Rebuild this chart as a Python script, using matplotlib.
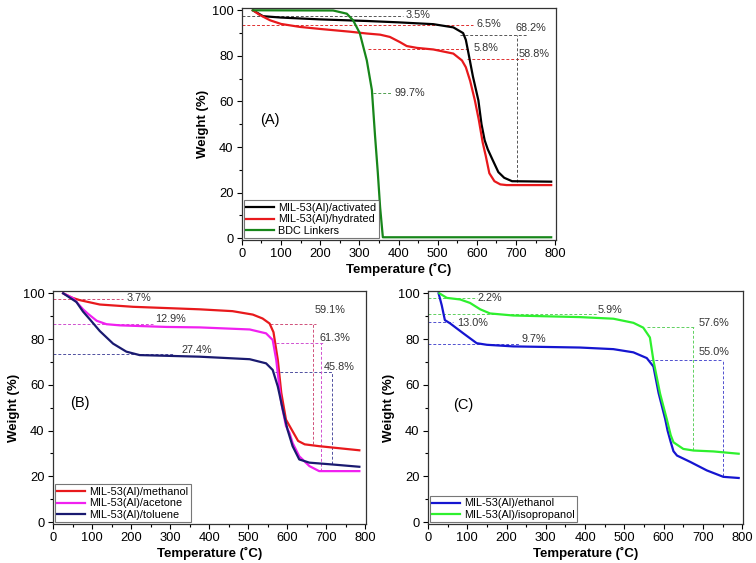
import numpy as np
import matplotlib.pyplot as plt
from matplotlib.ticker import MultipleLocator

plt.rcParams['font.family'] = ['Liberation Sans', 'DejaVu Sans']

# ---- panel A data (temperature in C, weight in %)
T_act = [28, 54, 100, 200, 319, 400, 489, 540, 565, 572, 580, 590, 604, 612, 620, 628, 640, 655, 670, 690, 790]
W_act = [100, 97.4, 96.8, 96.0, 95.3, 94.7, 93.9, 92.5, 90, 87, 80, 71, 60.5, 50, 43, 39, 34.5, 29, 26.5, 25, 24.8]

T_hyd = [28, 45, 72, 100, 148, 200, 276, 319, 353, 378, 404, 421, 447, 489, 540, 562, 572, 583, 595, 605, 615, 623, 632, 645, 660, 676, 790]
W_hyd = [100, 98, 95.6, 94, 92.7, 91.8, 90.6, 89.8, 89.3, 88.3, 86, 84.3, 83.5, 82.8, 81, 78, 75, 69, 60.5, 52, 42, 36, 28.5, 25, 23.6, 23.3, 23.3]

T_bdc = [28, 233, 268, 284, 301, 319, 332, 340, 347, 353, 360, 790]
W_bdc = [100, 99.9, 98.5, 95.6, 90, 78, 65, 45, 29, 13.6, 0.4, 0.4]

# ---- panel B data
T_meth = [26, 50, 69, 120, 205, 376, 460, 512, 537, 555, 565, 576, 585, 597, 608, 618, 628, 645, 682, 785]
W_meth = [100, 98, 97, 95.1, 94.1, 93, 92.2, 90.7, 89, 86.8, 83, 71, 56.5, 44.8, 41.5, 38.5, 35.5, 34, 33.2, 31.4]

T_acet = [26, 52, 77, 90, 112, 137, 171, 290, 376, 504, 546, 563, 572, 585, 597, 606, 614, 631, 657, 682, 785]
W_acet = [100, 97.8, 93, 91, 88, 86.5, 86, 85.3, 85.1, 84.2, 82.5, 79.6, 70.9, 52, 42, 39, 34.6, 28.8, 24.5, 22.3, 22.3]

T_tol = [26, 60, 77, 95, 120, 154, 188, 222, 376, 504, 546, 563, 576, 589, 601, 614, 631, 657, 716, 785]
W_tol = [100, 96.2, 92, 88.5, 83.5, 78, 74.5, 73, 72.3, 71.2, 69.4, 66.5, 59.3, 49.1, 40.4, 33.2, 27.4, 26, 25.2, 24.2]

# ---- panel C data
T_iso = [29, 48, 82, 107, 133, 158, 217, 387, 472, 523, 548, 565, 574, 591, 608, 618, 625, 650, 676, 727, 791]
W_iso = [100, 98, 97.3, 95.8, 93, 91.2, 90.3, 89.6, 88.9, 87.1, 85, 80.7, 70.6, 56.1, 45, 38, 34.9, 32, 31.3, 30.9, 29.9]

T_eth = [27, 35, 43, 56, 90, 124, 150, 217, 387, 472, 523, 557, 574, 587, 604, 610, 618, 625, 634, 668, 710, 752, 791]
W_eth = [100, 94.8, 88.3, 86.9, 82.5, 78.2, 77.5, 76.8, 76.3, 75.6, 74.2, 71.7, 68, 56.5, 45, 40, 35, 31, 29.1, 26.3, 22.6, 19.8, 19.3]

# annotation guides: (y, x0, x1), (x, y0, y1), labels (x, y, text)
hl_A = [(97.4, 0, 412, 'gray'), (93.7, 0, 590, 'red'), (89.3, 557, 728, 'gray'),
        (83.2, 322, 583, 'red'), (78.8, 574, 725, 'red'), (63.5, 335, 383, 'green')]
vl_A = [(702, 24.6, 89.3, 'gray')]
lab_A = [(418, 97.8, '3.5%'), (598, 93.9, '6.5%'), (698, 92.1, '68.2%'),
         (593, 83.5, '5.8%'), (708, 80.7, '58.8%'), (391, 63.5, '99.7%')]

hl_B = [(97.4, 0, 179, 'rose'), (86.6, 0, 255, 'mag'), (86.8, 555, 675, 'rose'),
        (78.1, 572, 691, 'mag'), (73.3, 0, 307, 'navy'), (65.5, 568, 716, 'navy')]
vl_B = [(665, 34, 86.8, 'rose'), (687, 22.3, 78.1, 'mag'), (714, 25.5, 65.5, 'navy')]
lab_B = [(189, 98, '3.7%'), (262, 88.6, '12.9%'), (670, 92.6, '59.1%'),
         (683, 80.6, '61.3%'), (329, 75.2, '27.4%'), (695, 68, '45.8%')]

hl_C = [(98, 0, 124, 'lgreen'), (90.8, 0, 430, 'lgreen'), (87.6, 0, 64, 'blue'),
        (77.8, 0, 234, 'blue'), (85.2, 557, 680, 'lgreen'), (71, 565, 750, 'blue')]
vl_C = [(674, 31.5, 85.2, 'lgreen'), (750, 20, 71, 'blue')]
lab_C = [(125, 98, '2.2%'), (433, 92.9, '5.9%'), (74, 87.2, '13.0%'),
         (239, 80.2, '9.7%'), (689, 86.9, '57.6%'), (688, 74.4, '55.0%')]

dash_col = {'gray': '#555555', 'red': '#e03030', 'green': '#50a050', 'rose': '#d0507a',
            'mag': '#d050d0', 'navy': '#5050a0', 'lgreen': '#60d060', 'blue': '#5050d0'}


def setup(ax, tag, tagpos):
    ax.set_xlim(0, 802)
    ax.set_ylim(-0.8, 101)
    ax.xaxis.set_major_locator(MultipleLocator(100))
    ax.xaxis.set_minor_locator(MultipleLocator(50))
    ax.yaxis.set_major_locator(MultipleLocator(20))
    ax.yaxis.set_minor_locator(MultipleLocator(10))
    ax.tick_params(which='both', direction='out', labelsize=9.3, width=0.8, pad=2.5)
    ax.tick_params(which='major', length=3.5)
    ax.tick_params(which='minor', length=2)
    ax.set_xlabel('Temperature (˚C)', fontsize=9.5, fontweight='bold', labelpad=2)
    ax.set_ylabel('Weight (%)', fontsize=9.5, fontweight='bold', labelpad=2)
    for s in ax.spines.values():
        s.set_linewidth(0.9)
        s.set_color('#333333')
    ax.text(tagpos[0], tagpos[1], tag, fontsize=10.5, va='center')


def guides(ax, hl, vl, lab):
    for y, x0, x1, c in hl:
        ax.plot([x0, x1], [y, y], ls=(0, (3, 2)), lw=0.7, color=dash_col[c])
    for x, y0, y1, c in vl:
        ax.plot([x, x], [y0, y1], ls=(0, (3, 2)), lw=0.7, color=dash_col[c])
    for x, y, t in lab:
        ax.text(x, y, t, fontsize=7.8, va='center', ha='left', color='#333333')


def leg(ax):
    l = ax.legend(loc='lower left', fontsize=7.8, frameon=True, fancybox=False,
                  edgecolor='#555555', borderaxespad=0.15, handlelength=2.6,
                  borderpad=0.25, labelspacing=0.12, handletextpad=0.3)
    l.get_frame().set_linewidth(0.8)


fig = plt.figure(figsize=(7.56, 5.63), dpi=100)

axA = fig.add_axes([0.320, 0.5737, 0.4153, 0.4121])
guides(axA, hl_A, vl_A, lab_A)
axA.plot(T_act, W_act, color='black', lw=1.6, label='MIL-53(Al)/activated')
axA.plot(T_hyd, W_hyd, color='#e8191c', lw=1.6, label='MIL-53(Al)/hydrated')
axA.plot(T_bdc, W_bdc, color='#17861a', lw=1.6, label='BDC Linkers')
setup(axA, '(A)', (46, 52))
leg(axA)

axB = fig.add_axes([0.0701, 0.0693, 0.414, 0.4138])
guides(axB, hl_B, vl_B, lab_B)
axB.plot(T_meth, W_meth, color='#e8191c', lw=1.6, label='MIL-53(Al)/methanol')
axB.plot(T_acet, W_acet, color='#f020f0', lw=1.6, label='MIL-53(Al)/acetone')
axB.plot(T_tol, W_tol, color='#1a1a70', lw=1.6, label='MIL-53(Al)/toluene')
setup(axB, '(B)', (43, 52))
leg(axB)

axC = fig.add_axes([0.5661, 0.0693, 0.4167, 0.4138])
guides(axC, hl_C, vl_C, lab_C)
axC.plot(T_eth, W_eth, color='#1515d0', lw=1.6, label='MIL-53(Al)/ethanol')
axC.plot(T_iso, W_iso, color='#2ef02e', lw=1.6, label='MIL-53(Al)/isopropanol')
setup(axC, '(C)', (65, 51))
leg(axC)

fig.savefig('out.png', dpi=100)
